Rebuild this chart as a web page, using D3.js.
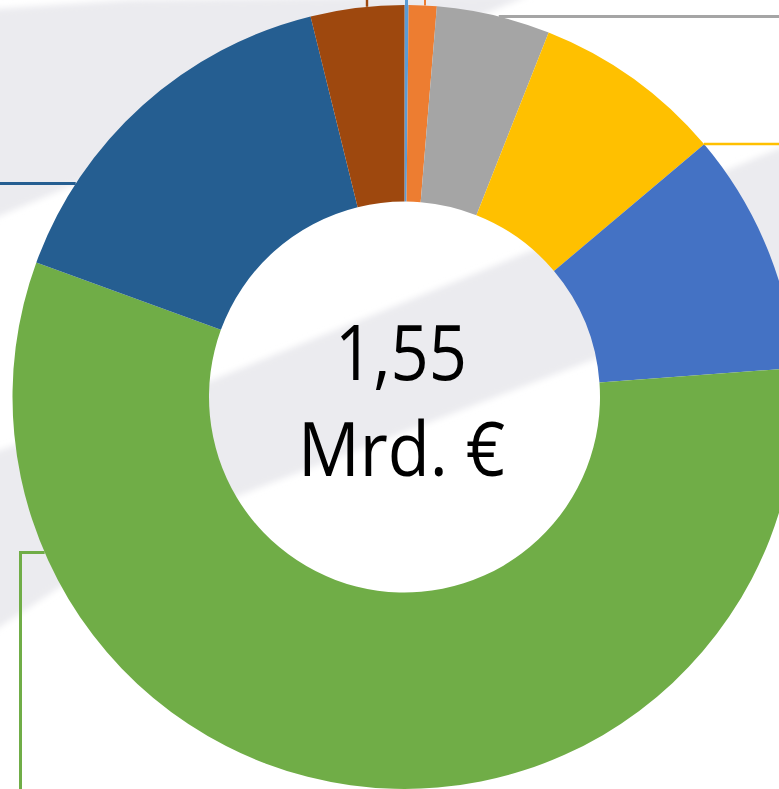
<!DOCTYPE html>
<html>
<head>
<meta charset="utf-8">
<script src="https://cdn.jsdelivr.net/npm/d3@7"></script>
<style>
  html, body { margin: 0; padding: 0; background: #fff; overflow: hidden; }
</style>
</head>
<body>
<div id="chart"></div>
<script>
// data (Mio. €; total ~1,55 Mrd. €)
const categories = ["Segment 1", "Segment 2", "Segment 3", "Segment 4", "Segment 5", "Segment 6", "Segment 7", "Segment 8"];
const values = [2.6, 17.8, 72.5, 121.8, 154.5, 879.6, 241.3, 59.7];
const colors = ["#5B9BD5", "#ED7D31", "#A5A5A5", "#FFC000", "#4472C4", "#70AD47", "#255E91", "#9E480E"];
const centerLines = ["1,55", "Mrd. €"];

// set the dimensions
const width = 779, height = 789;
const cx = 404.5, cy = 397;
const outerR = 392, innerR = 195.5;

const svg = d3.select("#chart")
    .append("svg")
    .attr("width", width)
    .attr("height", height);

// slide background: white with soft grey diagonal bands
const defs = svg.append("defs");
defs.append("filter").attr("id", "soft")
    .attr("x", "-10%").attr("y", "-10%").attr("width", "120%").attr("height", "120%")
  .append("feGaussianBlur").attr("stdDeviation", 3);

svg.append("rect").attr("width", width).attr("height", height).attr("fill", "#ffffff");

const bands = [
    [[-20, 10], [130, 0], [515, -5], [530, -5], [-20, 224]],
    [[-20, 457], [210, 381], [533, 250], [800, 140], [800, 282], [600, 357], [240, 495], [60, 587], [-20, 640]]
];
svg.selectAll("path.band")
    .data(bands)
    .join("path")
    .attr("class", "band")
    .attr("d", d => d3.line()(d) + "Z")
    .attr("fill", "#EBEBEF")
    .attr("filter", "url(#soft)");

// donut
const pie = d3.pie().sort(null).value(d => d)(values);
const arc = d3.arc().innerRadius(innerR).outerRadius(outerR);

const g = svg.append("g").attr("transform", `translate(${cx}, ${cy})`);
g.selectAll("path")
    .data(pie)
    .join("path")
    .attr("d", arc)
    .attr("fill", (d, i) => colors[i]);

// leader lines (labels are outside the visible area)
function circleY(x) { return cy - Math.sqrt(outerR * outerR - (x - cx) * (x - cx)); }
function circleX(y, side) { return cx + side * Math.sqrt(outerR * outerR - (y - cy) * (y - cy)); }

const leaders = [
    { i: 0, pts: [[406.5, -5]], hit: { x: 406.5 }, w: 3 },
    { i: 1, pts: [[425, -5]], hit: { x: 425 }, w: 2 },
    { i: 2, pts: [[790, 16.5]], hit: { y: 16.5, side: 1 }, w: 3 },
    { i: 3, pts: [[790, 144]], hit: { y: 144, side: 1 }, w: 2.6 },
    { i: 5, pts: [[20.5, 800], [20.5, 552.5]], hit: { y: 552.5, side: -1 }, w: 3 },
    { i: 6, pts: [[-10, 183.5]], hit: { y: 183.5, side: -1 }, w: 3 },
    { i: 7, pts: [[367, -5]], hit: { x: 367 }, w: 2.4 }
];
leaders.forEach(l => {
    const end = l.hit.x !== undefined
        ? [l.hit.x, circleY(l.hit.x)]
        : [circleX(l.hit.y, l.hit.side), l.hit.y];
    svg.append("path")
        .attr("d", d3.line()(l.pts.concat([end])))
        .attr("fill", "none")
        .attr("stroke", colors[l.i])
        .attr("stroke-width", l.w);
});

// total in the hole
const label = svg.append("g").attr("font-family", "'Open Sans', 'Noto Sans', sans-serif").attr("fill", "#000");
label.append("text")
    .attr("x", 401).attr("y", 380)
    .attr("text-anchor", "middle")
    .attr("font-size", 76)
    .attr("textLength", 132)
    .attr("lengthAdjust", "spacingAndGlyphs")
    .text(centerLines[0]);
label.append("text")
    .attr("x", 401.5).attr("y", 476)
    .attr("text-anchor", "middle")
    .attr("font-size", 75)
    .attr("textLength", 207)
    .attr("lengthAdjust", "spacingAndGlyphs")
    .text(centerLines[1]);
</script>
</body>
</html>
